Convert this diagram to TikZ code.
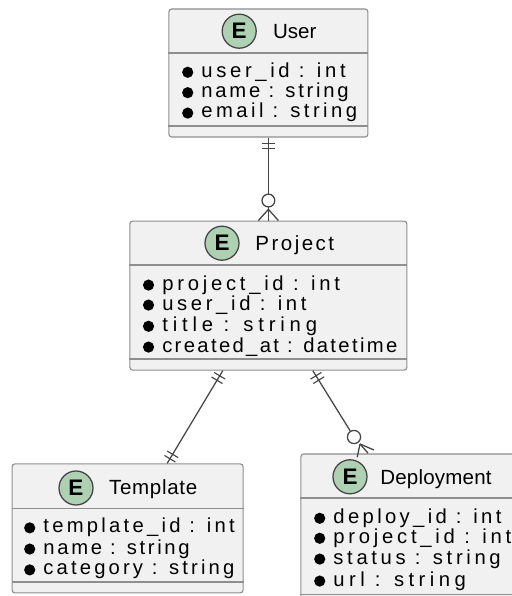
\documentclass[tikz,border=0pt]{standalone}
\usepackage{fontspec}
\setmainfont{Liberation Sans}
\usetikzlibrary{decorations.markings}
\definecolor{entfill}{HTML}{F1F1F1}
\definecolor{entline}{HTML}{8E8E8E}
\definecolor{spotfill}{HTML}{ADD1B2}
\definecolor{linkline}{HTML}{444444}
\tikzset{
    entity/.style={draw=entline, fill=entfill, line width=0.8pt, rounded corners=2pt, inner sep=0pt},
    spot/.style={circle, draw=linkline, fill=spotfill, line width=0.9pt, minimum size=0.85cm, inner sep=0pt, font=\fontsize{16}{17}\selectfont\bfseries},
    title/.style={anchor=base west, inner sep=0pt, font=\fontsize{14.6}{16}\selectfont\addfontfeature{LetterSpace=#1}},
    title/.default=0,
    attr/.style={anchor=base west, inner sep=0pt, text height=10pt, text depth=3pt, font=\fontsize{14.4}{16}\selectfont\addfontfeature{LetterSpace=#1},
        label={[circle, fill=black, inner sep=0pt, minimum size=0.28cm, xshift=-0.19cm]left:{}}},
    divider/.style={entline, line width=0.8pt},
    link/.style={linkline, line width=0.9pt},
    ring/.style={circle, draw=linkline, fill=white, line width=0.9pt, minimum size=0.33cm, inner sep=0pt},
    onebar/.style={postaction={decorate, decoration={markings,
        mark=at position 0.15cm with {\draw[linkline, line width=0.8pt] (0,-0.16) -- (0,0.16);},
        mark=at position 0.28cm with {\draw[linkline, line width=0.8pt] (0,-0.16) -- (0,0.16);}}}},
    onebarend/.style={postaction={decorate, decoration={markings,
        mark=at position -0.26cm with {\draw[linkline, line width=0.8pt] (0,-0.16) -- (0,0.16);},
        mark=at position -0.13cm with {\draw[linkline, line width=0.8pt] (0,-0.16) -- (0,0.16);}}}},
    zeromany/.style={postaction={decorate, decoration={markings,
        mark=at position -0.5cm with {\draw[linkline, line width=0.9pt, fill=white] (0,0) circle (0.16);},
        mark=at position -0.28cm with {\draw[linkline, line width=0.9pt] (0,0) -- (0.28,0.25) (0,0) -- (0.28,-0.25);}}}}
}
\begin{document}
\begin{tikzpicture}
    \useasboundingbox (0,0) rectangle (12.8,-14.9);

    % User
    \node[entity, minimum width=4.975cm, minimum height=3.2cm] (user) at (6.71,-1.825) {};
    \draw[divider] (user.west |- 0,-1.325) -- (user.east |- 0,-1.325);
    \draw[divider] (user.west |- 0,-3.15) -- (user.east |- 0,-3.15);
    \node[spot] (userspot) at (5.98,-0.78) {E};
    \node[title] (usertitle) at (6.82,-0.97) {User};
    \node[attr=18] (userid) at (5.03,-1.93) {user\_id : int};
    \node[attr=13.5] (username) at (5.03,-2.44) {name : string};
    \node[attr=17] (useremail) at (5.03,-2.95) {email : string};

    % Project
    \node[entity, minimum width=6.925cm, minimum height=3.725cm] (project) at (6.71,-7.39) {};
    \draw[divider] (project.west |- 0,-6.625) -- (project.east |- 0,-6.625);
    \draw[divider] (project.west |- 0,-8.975) -- (project.east |- 0,-8.975);
    \node[spot] (projectspot) at (5.55,-6.08) {E};
    \node[title=12] (projecttitle) at (6.38,-6.27) {Project};
    \node[attr=18.5] (projectid) at (4.05,-7.25) {project\_id : int};
    \node[attr=18] (projectuser) at (4.05,-7.75) {user\_id : int};
    \node[attr=24] (projecttext) at (4.05,-8.28) {title : string};
    \node[attr=11.6] (projectdate) at (4.05,-8.8) {created\_at : datetime};

    % Template
    \node[entity, minimum width=5.775cm, minimum height=3.225cm] (template) at (3.19,-13.21) {};
    \draw[divider] (template.west |- 0,-12.72) -- (template.east |- 0,-12.72);
    \draw[divider] (template.west |- 0,-14.55) -- (template.east |- 0,-14.55);
    \node[spot] (templatespot) at (1.9,-12.2) {E};
    \node[title=3.4] (templatetitle) at (2.72,-12.37) {Template};
    \node[attr=16] (templateid) at (1.08,-13.32) {template\_id : int};
    \node[attr=13] (templatename) at (1.08,-13.85) {name : string};
    \node[attr=15.5] (templatecat) at (1.08,-14.37) {category : string};

    % Deployment
    \node[entity, minimum width=5.475cm, minimum height=3.8cm] (deploy) at (10.26,-13.25) {};
    \draw[divider] (deploy.west |- 0,-12.45) -- (deploy.east |- 0,-12.45);
    \draw[divider] (deploy.west |- 0,-14.86) -- (deploy.east |- 0,-14.86);
    \node[spot] (deployspot) at (8.75,-11.92) {E};
    \node[title=1] (deploytitle) at (9.5,-12.1) {Deployment};
    \node[attr=16.5] (deployid) at (8.33,-13.08) {deploy\_id : int};
    \node[attr=18.5] (deployproject) at (8.33,-13.58) {project\_id : int};
    \node[attr=18] (deploystatus) at (8.33,-14.1) {status : string};
    \node[attr=22] (deployurl) at (8.33,-14.65) {url : string};

    % Links between the entities
    \draw[link, onebar, zeromany] (user.south) -- (project.north);
    \draw[link, onebar, onebarend] ([xshift=-1.14cm]project.south) -- ([xshift=0.99cm]template.north);

    % The last link has a bent crow foot
    \node[ring] (deployring) at (8.85,-10.925) {};
    \coordinate (deployapex) at (9.0,-11.1);
    \coordinate (deployfoota) at (9.35,-11.25);
    \coordinate (deployfootb) at (9.2,-11.33);
    \coordinate (deployfootc) at (8.93,-11.43);
    \draw[link, onebar] ([xshift=1.11cm]project.south) -- (deployring);
    \draw[link] (deployapex) -- (deployfoota);
    \draw[link] (deployapex) -- (deployfootb);
    \draw[link] (deployapex) -- (deployfootc);
\end{tikzpicture}
\end{document}
